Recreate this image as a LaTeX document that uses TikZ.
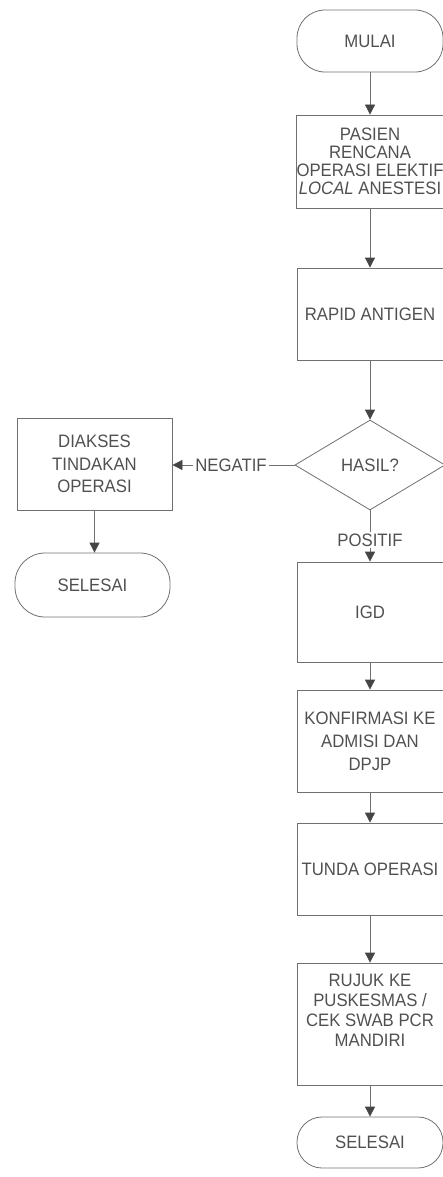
\documentclass[tikz,border=0pt]{standalone}
\usepackage{fontspec}
\setmainfont{Liberation Sans}[FakeStretch=0.93]
\usetikzlibrary{shapes.geometric,arrows.meta}
\definecolor{ink}{HTML}{505050}
\definecolor{edge}{HTML}{707070}
\definecolor{tip}{HTML}{454545}
\begin{document}
\begin{tikzpicture}[x=1pt,y=-1pt,
  every node/.style={font=\fontsize{18}{18}\selectfont, text=ink},
  box/.style={draw=edge, line width=0.8pt, rectangle, align=center,
    inner sep=0pt, minimum width=146pt},
  term/.style={draw=edge, line width=0.8pt, rectangle, align=center, inner sep=0pt},
  decide/.style={draw=edge, line width=0.8pt, diamond, inner sep=0pt,
    minimum width=150pt, minimum height=90pt},
  flow/.style={draw=edge, line width=0.8pt,
    -{Triangle[length=10pt,width=10pt,color=tip]}},
  tag/.style={fill=white, inner sep=2pt}]
\useasboundingbox (0,0) rectangle (443,1177);

% main column
\node[term, rounded corners=28pt, minimum width=146pt, minimum height=62pt] (mulai)
  at (370,41) {MULAI};
\node[box, minimum height=93pt, font=\fontsize{18}{18}\selectfont] (pasien) at (370,161.5)
  {PASIEN\\RENCANA\\OPERASI ELEKTIF\\\textit{LOCAL} ANESTESI};
\node[box, minimum height=92pt] (rapid) at (370,314) {RAPID ANTIGEN};
\node[decide] (hasil) at (370,465) {HASIL?};
\node[box, minimum height=100pt] (igd) at (370,612) {IGD};
\node[box, minimum height=102pt, font=\fontsize{18}{23}\selectfont] (konf) at (370,741)
  {KONFIRMASI KE\\ADMISI DAN\\DPJP};
\node[box, minimum height=92pt] (tunda) at (370,869) {TUNDA OPERASI};
\node[box, minimum height=122pt, font=\fontsize{18}{20}\selectfont] (rujuk) at (370,1024)
  {RUJUK KE\\PUSKESMAS /\\CEK SWAB PCR\\MANDIRI\\[8pt]};
\node[term, rounded corners=25pt, minimum width=146pt, minimum height=51pt] (sel2)
  at (370,1142.5) {SELESAI};

% negative branch
\node[box, minimum width=155pt, minimum height=92pt, font=\fontsize{18}{22.5}\selectfont]
  (diakses) at (94.5,464) {DIAKSES\\TINDAKAN\\OPERASI};
\node[term, rounded corners=30pt, minimum width=155pt, minimum height=64pt] (sel1)
  at (92.5,585) {SELESAI};

% connectors
\draw[flow] (mulai) -- (pasien);
\draw[flow] (pasien) -- (rapid);
\draw[flow] (rapid) -- (hasil);
\draw[flow] (hasil.west) -- node[tag, pos=0.52] {NEGATIF} (diakses.east |- hasil.west);
\draw[flow] (hasil) -- node[tag, pos=0.58] {POSITIF} (igd);
\draw[flow] (igd) -- (konf);
\draw[flow] (konf) -- (tunda);
\draw[flow] (tunda) -- (rujuk);
\draw[flow] (rujuk) -- (sel2);
\draw[flow] (diakses) -- (diakses.south |- sel1.north);
\end{tikzpicture}
\end{document}
